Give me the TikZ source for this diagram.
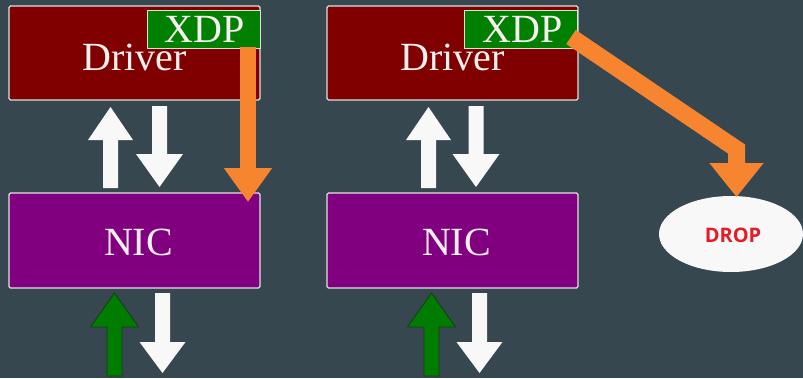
\documentclass[tikz,border=0pt]{standalone}
\usepackage{fontspec}
\setmainfont{Liberation Serif}
\newfontfamily\dropfont{Open Sans}
\usetikzlibrary{arrows.meta,shapes.geometric}

\definecolor{bgslate}{RGB}{55,71,79}
\definecolor{drvred}{RGB}{128,0,0}
\definecolor{nicpurple}{RGB}{128,0,128}
\definecolor{xdpgreen}{RGB}{0,128,0}
\definecolor{flowwhite}{RGB}{248,248,248}
\definecolor{xdporange}{RGB}{247,132,46}
\definecolor{pktgreen}{RGB}{0,125,0}
\definecolor{pktedge}{RGB}{20,60,20}
\definecolor{droptext}{RGB}{228,28,40}
\definecolor{boxedge}{RGB}{225,225,225}
\definecolor{labeltext}{RGB}{248,240,240}

\tikzset{
  layerbox/.style={draw=boxedge, line width=1.3pt, rounded corners=1.5pt,
    minimum width=251pt, inner sep=0pt},
  drvbox/.style={layerbox, fill=drvred, minimum height=94pt},
  nicbox/.style={layerbox, fill=nicpurple, minimum height=95pt},
  xdpbox/.style={draw=boxedge, line width=1pt, fill=xdpgreen,
    minimum width=113pt, minimum height=38pt, inner sep=0pt},
  lbl/.style={text=labeltext, font=\fontsize{40}{40}\selectfont, inner sep=0pt, anchor=base},
  whitearrow/.style={draw=none, fill=flowwhite},
  pktarrow/.style={draw=pktedge, line width=0.8pt, fill=pktgreen, line join=miter},
  orangeflow/.style={draw=xdporange, line join=miter,
    -{Triangle[width=#1, length=34pt]}},
}

% vertical block arrow: centre x, tail y, tip y, shaft half width, head half width, head length
\newcommand\blockarrow[7]{%
  \pgfmathsetmacro\hb{#4-(#4>#3?1:-1)*#7}%
  \path[#1] (#2-#5,#3) -- (#2-#5,\hb) -- (#2-#6,\hb) -- (#2,#4)
    -- (#2+#6,\hb) -- (#2+#5,\hb) -- (#2+#5,#3) -- cycle;%
}

\begin{document}
\begin{tikzpicture}[x=1pt, y=-1pt]
  \fill[bgslate] (0,0) rectangle (803,378);
  \useasboundingbox (0,0) rectangle (803,378);

  % ---------- generic path ----------
  \node[drvbox] (drvL) at (134.5,53) {};
  \node[nicbox] (nicL) at (134.5,240.5) {};
  \node[lbl] at ([yshift=-17pt]drvL.center) {Driver};
  \node[lbl] at ([xshift=4pt, yshift=-14.5pt]nicL.center) {NIC};

  \blockarrow{whitearrow}{110.5}{188}{107}{7.5}{22.5}{33}
  \blockarrow{whitearrow}{159.5}{106}{187}{7.5}{23.5}{33}
  \blockarrow{pktarrow}{114.5}{376}{293}{7.5}{24}{34}
  \blockarrow{whitearrow}{162.5}{293}{373}{7.5}{23}{31}

  \node[xdpbox] (xdpL) at (203.5,29) {};
  \node[lbl] at ([xshift=1.5pt, yshift=-13pt]xdpL.center) {XDP};

  \coordinate (passS) at (248,47);
  \coordinate (passT) at (248,202);
  \draw[orangeflow=46pt, line width=16pt] (passS) -- (passT);

  % ---------- XDP drop path ----------
  \node[drvbox] (drvR) at (452.5,53) {};
  \node[nicbox] (nicR) at (452.5,240.5) {};
  \node[lbl] at ([yshift=-17pt]drvR.center) {Driver};
  \node[lbl] at ([xshift=4pt, yshift=-14.5pt]nicR.center) {NIC};

  \blockarrow{whitearrow}{428.5}{188}{107}{7.5}{22.5}{33}
  \blockarrow{whitearrow}{476}{106}{187}{7.5}{23.5}{33}
  \blockarrow{pktarrow}{431.5}{376}{293}{7.5}{24}{34}
  \blockarrow{whitearrow}{479.5}{293}{373}{7.5}{23}{31}

  \node[xdpbox] (xdpR) at (521,29) {};
  \node[lbl] at ([xshift=1.5pt, yshift=-13pt]xdpR.center) {XDP};

  \node[ellipse, fill=flowwhite, minimum width=144pt, minimum height=76pt,
        inner sep=0pt] (drop) at (731,234) {};
  \node[text=droptext, font=\dropfont\bfseries\fontsize{20}{20}\selectfont, inner sep=0pt,
        anchor=base] at ([xshift=2pt, yshift=-8pt]drop.center) {DROP};

  \coordinate (dropS) at (571,37);
  \coordinate (dropK) at (736.5,149);
  \coordinate (dropT) at (736.5,197);
  \draw[orangeflow=52pt, line width=17pt] (dropS) -- (dropK) -- (dropT);
\end{tikzpicture}
\end{document}
